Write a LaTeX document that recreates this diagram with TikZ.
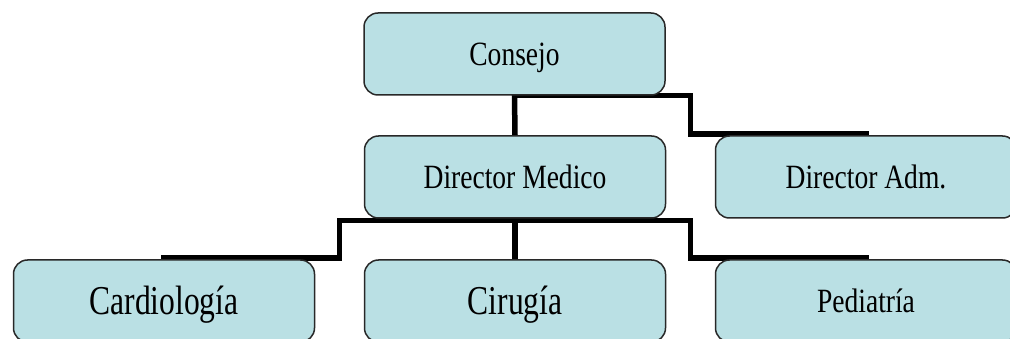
\documentclass[tikz,border=0pt]{standalone}
\usepackage{fontspec}
\usepackage{graphicx}
\setmainfont{Liberation Serif}
\usetikzlibrary{backgrounds}

\definecolor{boxfill}{RGB}{186,224,228}
\definecolor{boxline}{RGB}{40,40,40}

% condensed serif labels in two sizes
\newcommand{\lblsmall}[1]{\scalebox{0.81}[1]{\fontsize{34}{34}\selectfont #1}}
\newcommand{\lblbig}[1]{\scalebox{0.77}[1]{\fontsize{41}{41}\selectfont #1}}

\tikzset{
  orgbox/.style={draw=boxline, line width=1.5pt, fill=boxfill,
    rounded corners=14pt, minimum width=301pt, minimum height=82pt,
    inner sep=0pt, anchor=center, text height=22.5pt, text depth=0pt},
  orgbig/.style={orgbox, text height=27.1pt},
  link/.style={line width=5.5pt, black, line join=miter, line cap=rect}
}

\begin{document}
\begin{tikzpicture}[x=1pt, y=-1pt]
  \useasboundingbox (0,0) rectangle (1010,339);
  \clip (0,0) rectangle (1010,339);

  % organisation units
  \node[orgbox] (consejo) at (514.5,54)  {\lblsmall{Consejo}};
  \node[orgbox] (medico)  at (515,177)   {\lblsmall{Director Medico}};
  \node[orgbox] (adm)     at (866,177)   {\lblsmall{Director Adm.}};
  \node[orgbig] (cardio)  at (164,301)   {\lblbig{Cardiología}};
  \node[orgbig] (cirugia) at (515,301)   {\lblbig{Cirugía}};
  \node[orgbox] (pedia)   at (866,301)   {\lblsmall{Pediatría}};

  % elbow points of the connectors
  \coordinate (c1) at (515,95.5);
  \coordinate (c2) at (690.5,95.5);
  \coordinate (c3) at (690.5,134);
  \coordinate (c4) at (866,134);
  \coordinate (m1) at (339.5,220.5);
  \coordinate (m2) at (690.5,220.5);
  \coordinate (m3) at (339.5,258);
  \coordinate (m4) at (164,258);
  \coordinate (m5) at (690.5,258);
  \coordinate (m6) at (866,258);

  \begin{scope}[on background layer]
    \draw[link] (consejo.south) -- (medico.north);
    \draw[link] (c1) -- (c2) -- (c3) -- (c4) -- (adm.north);
    \draw[link] (m1) -- (m2);
    \draw[link] (m1) -- (m3) -- (m4) -- (cardio.north);
    \draw[link] (medico.south) -- (cirugia.north);
    \draw[link] (m2) -- (m5) -- (m6) -- (pedia.north);
  \end{scope}
\end{tikzpicture}
\end{document}
